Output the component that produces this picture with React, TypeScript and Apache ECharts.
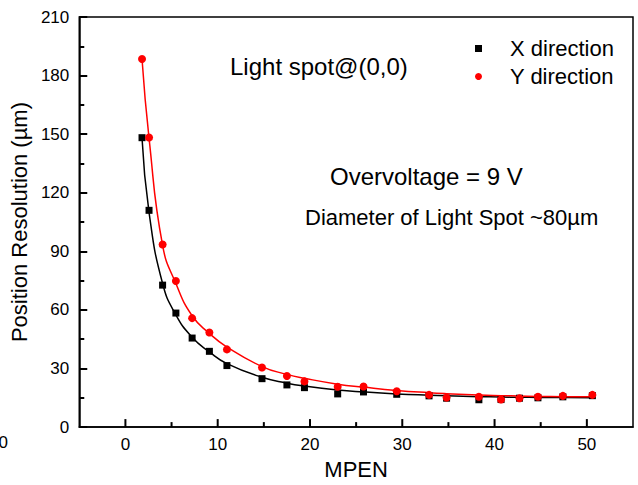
import React, { useEffect, useRef } from "react";
import * as echarts from "echarts";

const mpen = [1.8, 2.56, 4.03, 5.47, 7.23, 9.1, 11.0, 14.8, 17.5, 19.4, 23.0, 25.8, 29.4, 32.9, 34.8, 38.3, 40.7, 42.7, 44.7, 47.4, 50.6];
const xDirection = [148.2, 111.0, 72.7, 58.4, 45.6, 38.8, 31.5, 24.8, 21.6, 20.2, 17.0, 18.0, 16.8, 16.0, 14.8, 14.0, 14.1, 14.8, 15.0, 15.5, 16.1];
const yDirection = [188.5, 148.3, 93.5, 74.8, 55.8, 48.4, 39.8, 30.5, 26.2, 23.4, 20.7, 20.8, 18.4, 16.5, 15.1, 15.5, 14.1, 14.8, 15.5, 16.0, 16.5];
const xFit = [148, 110, 73.5, 57.5, 46, 38.5, 32.5, 25.5, 22.5, 21, 19, 18, 17, 16.3, 16, 15.6, 15.4, 15.3, 15.2, 15.1, 15.0];
const yFit = [188.5, 148, 93, 73.5, 57, 48, 41, 31, 27, 25, 22, 20.5, 18.8, 17.6, 17.1, 16.4, 16.1, 15.9, 15.7, 15.6, 15.5];
const xMajorTicks = [0, 10, 20, 30, 40, 50];
const xMinorTicks = [5, 15, 25, 35, 45];

const FONT = "'Liberation Sans', Arial, sans-serif";
const TICK = "#000";

export default function App() {
  const ref = useRef<HTMLDivElement>(null);
  useEffect(() => {
    if (!ref.current) return;
    const chart = echarts.init(ref.current, null, { renderer: "svg" });
    const pairs = (ys: number[]) => mpen.map((x, i) => [x, ys[i]]);
    const tickData = [
      ...xMajorTicks.map((v) => [v, 8]),
      ...xMinorTicks.map((v) => [v, 5]),
    ];
    chart.setOption({
      animation: false,
      backgroundColor: "#fff",
      textStyle: { fontFamily: FONT },
      grid: {
        left: 77, right: 5, top: 17, bottom: 57,
        show: true, borderColor: "#000", borderWidth: 1.5, backgroundColor: "transparent",
      },
      legend: {
        orient: "vertical",
        left: 470,
        top: 32,
        itemWidth: 7,
        itemHeight: 7,
        itemGap: 5,
        textStyle: { fontSize: 22, color: "#000", fontFamily: FONT, padding: [0, 0, 0, 23], lineHeight: 23 },
        data: [
          { name: "X direction", icon: "rect" },
          { name: "Y direction", icon: "circle" },
        ],
      },
      xAxis: {
        type: "value", min: -5, max: 55,
        name: "MPEN", nameLocation: "middle", nameGap: 28,
        nameTextStyle: { fontSize: 22, color: "#000", fontFamily: FONT },
        axisLine: { show: true, onZero: false, lineStyle: { color: "#000", width: 1.5 } },
        axisTick: { show: false },
        axisLabel: { show: true, customValues: xMajorTicks, fontSize: 17, color: "#000", margin: 9, fontFamily: FONT },
        splitLine: { show: false },
      },
      yAxis: {
        type: "value", min: 0, max: 210, interval: 30,
        name: "Position Resolution (µm)", nameLocation: "middle", nameGap: 38,
        nameTextStyle: { fontSize: 22, color: "#000", fontFamily: FONT },
        axisLine: { show: true, onZero: false, lineStyle: { color: "#000", width: 1.5 } },
        axisTick: { show: true, inside: true, length: 8, lineStyle: { color: TICK, width: 2 } },
        minorTick: { show: true, splitNumber: 2, length: 5, lineStyle: { color: TICK, width: 2 } },
        axisLabel: { fontSize: 17, color: "#000", margin: 10, fontFamily: FONT },
        splitLine: { show: false },
      },
      series: [
        {
          name: "ticks", type: "custom", data: tickData, silent: true, z: 5,
          renderItem: (params: any, api: any) => {
            const p = api.coord([api.value(0), 0]);
            const len = api.value(1);
            return {
              type: "line",
              shape: { x1: p[0], y1: p[1], x2: p[0], y2: p[1] - len },
              style: { stroke: TICK, lineWidth: 2 },
            };
          },
        },
        {
          name: "X fit", type: "line", data: pairs(xFit), showSymbol: false, smooth: 0.5,
          lineStyle: { color: "#000", width: 1.5 }, itemStyle: { color: "#000" }, z: 1,
        },
        {
          name: "Y fit", type: "line", data: pairs(yFit), showSymbol: false, smooth: 0.5,
          lineStyle: { color: "#ff0000", width: 1.5 }, itemStyle: { color: "#ff0000" }, z: 2,
        },
        {
          name: "X direction", type: "scatter", data: pairs(xDirection), symbol: "rect", symbolSize: 7,
          itemStyle: { color: "#000", opacity: 1 }, z: 3,
        },
        {
          name: "Y direction", type: "scatter", data: pairs(yDirection), symbol: "circle", symbolSize: 8,
          itemStyle: { color: "#ff0000", opacity: 1 }, z: 4,
        },
      ],
      graphic: [
        { type: "text", left: 230, top: 54, style: { text: "Light spot@(0,0)", fontSize: 24, fill: "#000", fontFamily: FONT } },
        { type: "text", left: 330, top: 164, style: { text: "Overvoltage = 9 V", fontSize: 24, fill: "#000", fontFamily: FONT } },
        { type: "text", left: 305, top: 206, style: { text: "Diameter of Light Spot ~80µm", fontSize: 22, fill: "#000", fontFamily: FONT } },
        { type: "text", right: 630, top: 434, style: { text: "0", fontSize: 17, fill: "#000", fontFamily: FONT } },
      ],
    });
    return () => chart.dispose();
  }, []);
  return <div ref={ref} style={{ position: "fixed", left: 0, top: 0, width: 638, height: 485 }} />;
}
